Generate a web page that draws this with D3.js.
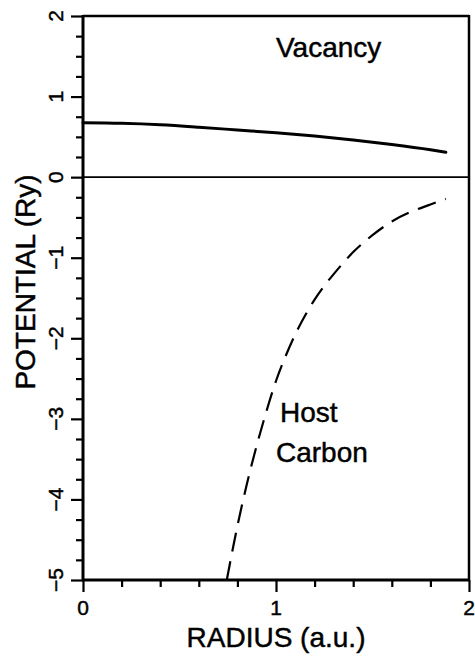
<!DOCTYPE html>
<html><head><meta charset="utf-8">
<script src="https://cdn.jsdelivr.net/npm/d3@7"></script>
<style>body{margin:0;background:#fff} text{stroke:#000;stroke-width:0.45px;fill:#000}</style>
</head><body>
<svg id="c" width="475" height="656"></svg>
<script>
// Data
const vacancyR = [0, 0.2, 0.4, 0.6, 0.8, 1.0, 1.2, 1.4, 1.6, 1.8, 1.88];
const vacancyV = [0.675, 0.668, 0.65, 0.62, 0.585, 0.55, 0.51, 0.462, 0.405, 0.34, 0.31];
const hostR = [0.745, 0.80, 0.85, 0.90, 0.95, 1.00, 1.05, 1.10, 1.15, 1.20, 1.25, 1.30, 1.35, 1.40, 1.50, 1.60, 1.70, 1.80, 1.88];
const hostV = [-5.0, -4.33, -3.80, -3.33, -2.91, -2.53, -2.22, -1.95, -1.72, -1.52, -1.35, -1.20, -1.06, -0.93, -0.72, -0.55, -0.43, -0.34, -0.27];
const xMajorTicks = [0, 1, 2];
const xMinorTicks = [0.2, 0.4, 0.6, 0.8, 1.2, 1.4, 1.6, 1.8];
const yMajorTicks = [2, 1, 0, -1, -2, -3, -4, -5];
const yMinorTicks = [1.75, 1.5, 1.25, 0.75, 0.5, 0.25, -0.25, -0.5, -0.75, -1.25, -1.5, -1.75, -2.25, -2.5, -2.75, -3.25, -3.5, -3.75, -4.25, -4.5, -4.75];
const xTitle = "RADIUS (a.u.)";
const yTitle = "POTENTIAL (Ry)";
const labelVacancy = "Vacancy";
const labelHost = ["Host", "Carbon"];

const font = "'Liberation Sans', Arial, sans-serif";
const svg = d3.select("#c");
const L = 83, R = 469, T = 16, B = 580;
const x = d3.scaleLinear().domain([0, 2]).range([L, R]);
const y = d3.scaleLinear().domain([-5, 2]).range([B, T]);
const fmt = v => v < 0 ? "\u2212" + Math.abs(v) : String(v);

// zero line
svg.append("line").attr("x1", L).attr("x2", R).attr("y1", y(0)).attr("y2", y(0))
  .attr("stroke", "#000").attr("stroke-width", 1.6);

// axes ticks
function styleAxis(g) {
  g.select(".domain").remove();
  g.selectAll("line").attr("stroke", "#000").attr("stroke-width", 2.2);
  g.selectAll("text").remove();
}
svg.append("g").attr("transform", `translate(0,${B})`)
  .call(d3.axisBottom(x).tickValues(xMinorTicks).tickSize(7)).call(styleAxis);
svg.append("g").attr("transform", `translate(0,${B})`)
  .call(d3.axisBottom(x).tickValues(xMajorTicks).tickSize(12)).call(styleAxis);
svg.append("g").attr("transform", `translate(${L},0)`)
  .call(d3.axisLeft(y).tickValues(yMinorTicks).tickSize(7)).call(styleAxis);
svg.append("g").attr("transform", `translate(${L},0)`)
  .call(d3.axisLeft(y).tickValues(yMajorTicks).tickSize(12)).call(styleAxis);

// frame
svg.append("line").attr("x1", L).attr("x2", R).attr("y1", T).attr("y2", T).attr("stroke", "#000").attr("stroke-width", 2.5);
svg.append("line").attr("x1", R).attr("x2", R).attr("y1", T - 1).attr("y2", B).attr("stroke", "#000").attr("stroke-width", 2.5);
svg.append("line").attr("x1", L).attr("x2", L).attr("y1", T - 1).attr("y2", B + 1).attr("stroke", "#000").attr("stroke-width", 3);
svg.append("line").attr("x1", L - 1).attr("x2", R + 1).attr("y1", B).attr("y2", B).attr("stroke", "#000").attr("stroke-width", 3);

// tick labels
svg.append("g").selectAll("text").data(xMajorTicks).join("text")
  .attr("x", d => x(d)).attr("y", 615).attr("text-anchor", "middle")
  .attr("font-family", font).attr("font-size", 21).text(fmt);
svg.append("g").selectAll("text").data(yMajorTicks).join("text")
  .attr("transform", d => `translate(55,${y(d)}) rotate(-90)`)
  .attr("text-anchor", "middle").attr("dy", "0.36em")
  .attr("font-family", font).attr("font-size", 21).text(fmt);

// titles
svg.append("text").attr("x", 276).attr("y", 647).attr("text-anchor", "middle")
  .attr("font-family", font).attr("font-size", 28).text(xTitle);
svg.append("text").attr("transform", "translate(25,282) rotate(-90)")
  .attr("text-anchor", "middle").attr("dy", "0.36em")
  .attr("font-family", font).attr("font-size", 28).text(yTitle);

// curves
const vac = vacancyR.map((r, i) => [r, vacancyV[i]]);
const host = hostR.map((r, i) => [r, hostV[i]]);
const line = d3.line().x(d => x(d[0])).y(d => y(d[1])).curve(d3.curveMonotoneX);
svg.append("path").attr("d", line(vac)).attr("fill", "none")
  .attr("stroke", "#000").attr("stroke-width", 3).attr("stroke-linecap", "round");
svg.append("path").attr("d", line(host)).attr("fill", "none")
  .attr("stroke", "#000").attr("stroke-width", 2.2).attr("stroke-dasharray", "19,10");

// annotations
svg.append("text").attr("x", 276).attr("y", 57).attr("font-family", font).attr("font-size", 28).text(labelVacancy);
svg.append("text").attr("x", 280).attr("y", 422).attr("font-family", font).attr("font-size", 28).text(labelHost[0]);
svg.append("text").attr("x", 276).attr("y", 462).attr("font-family", font).attr("font-size", 28).text(labelHost[1]);
</script>
</body></html>
